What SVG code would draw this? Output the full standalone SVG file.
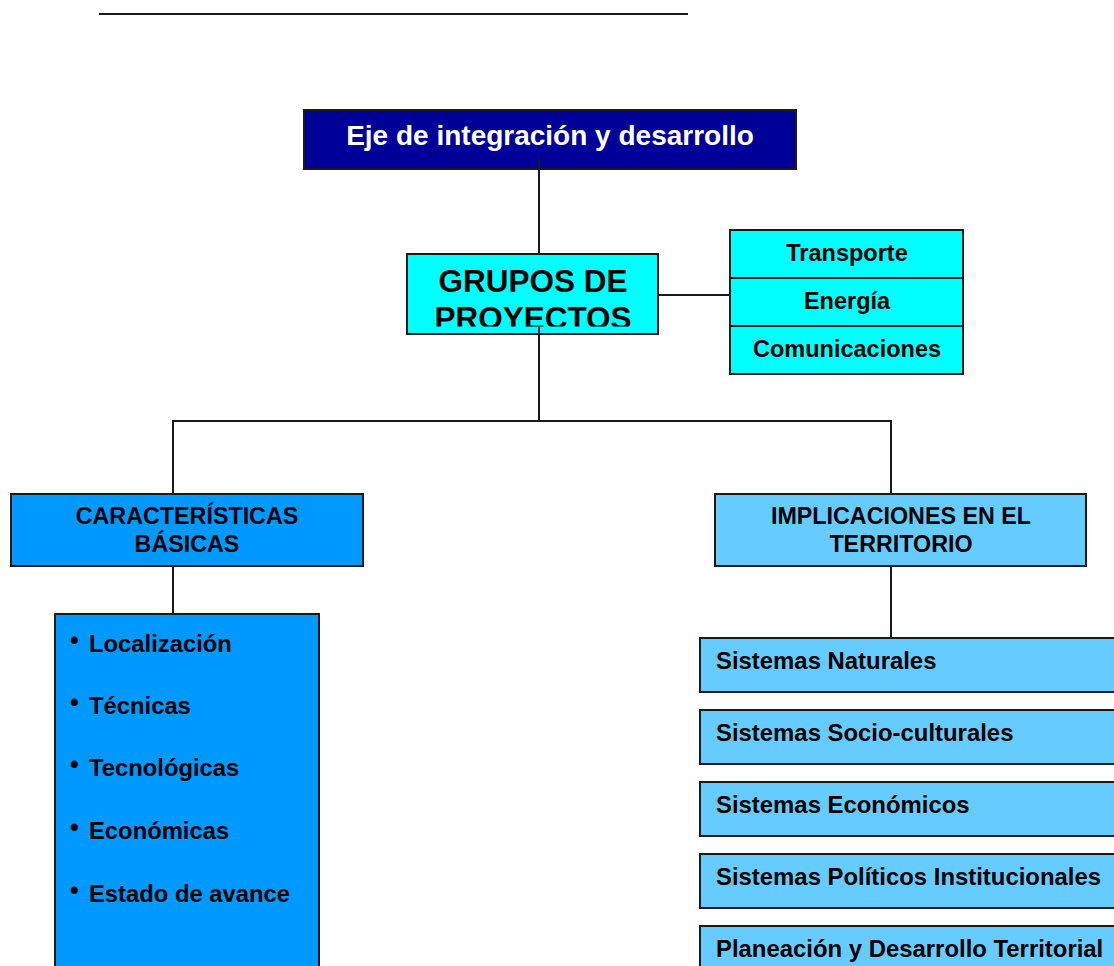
<svg xmlns="http://www.w3.org/2000/svg" width="1114" height="966" viewBox="0 0 1114 966">
<style>
.bx{stroke:#1a1a1a;stroke-width:2}
.t{font-family:"Liberation Sans",Arial,sans-serif;font-weight:bold;fill:#000}
.c{text-anchor:middle}
.ln{stroke:#1a1a1a;stroke-width:2;fill:none}
.bul{font-size:25px}
</style>
<defs>
<clipPath id="gclip"><rect x="408" y="255" width="249" height="71.5"/></clipPath>
</defs>
<rect width="1114" height="966" fill="#fff"/>
<line x1="99" y1="14" x2="688" y2="14" class="ln"/>
<g id="eje">
<rect x="304" y="110" width="492" height="59" fill="#000099" class="bx"/>
<text x="550" y="145" class="t c" font-size="28" style="fill:#fff">Eje de integración y desarrollo</text>
</g>
<g id="grupos">
<rect x="407" y="254" width="251" height="80" fill="#00FFFF" class="bx"/>
<g clip-path="url(#gclip)">
<text x="533" y="292" class="t c" font-size="31.5">GRUPOS DE</text>
<text x="533" y="329" class="t c" font-size="31.5">PROYECTOS</text>
</g>
</g>
<g id="sectores">
<rect x="730" y="230" width="233" height="48" fill="#00FFFF" class="bx"/>
<rect x="730" y="278" width="233" height="48" fill="#00FFFF" class="bx"/>
<rect x="730" y="326" width="233" height="48" fill="#00FFFF" class="bx"/>
<text x="847" y="261" class="t c" font-size="23.5">Transporte</text>
<text x="847" y="309" class="t c" font-size="23.5">Energía</text>
<text x="847" y="357" class="t c" font-size="23.5">Comunicaciones</text>
</g>
<g id="caracteristicas">
<rect x="11" y="494" width="352" height="72" fill="#0099FF" class="bx"/>
<text x="187" y="524" class="t c" font-size="23.3">CARACTERÍSTICAS</text>
<text x="187" y="552" class="t c" font-size="23.3">BÁSICAS</text>
</g>
<g id="implicaciones">
<rect x="715" y="494" width="371" height="72" fill="#66CCFF" class="bx"/>
<text x="901" y="524" class="t c" font-size="23.3">IMPLICACIONES EN EL</text>
<text x="901" y="552" class="t c" font-size="23.3">TERRITORIO</text>
</g>
<g id="lista">
<rect x="55" y="614" width="264" height="370" fill="#0099FF" class="bx"/>
<g class="t" font-size="23.8">
<text x="70" y="649" class="bul">•</text><text x="89" y="652">Localización</text>
<text x="70" y="711" class="bul">•</text><text x="89" y="714">Técnicas</text>
<text x="70" y="773" class="bul">•</text><text x="89" y="776">Tecnológicas</text>
<text x="70" y="836" class="bul">•</text><text x="89" y="839">Económicas</text>
<text x="70" y="899" class="bul">•</text><text x="89" y="902">Estado de avance</text>
</g>
</g>
<g id="sistemas">
<rect x="700" y="638" width="430" height="54" fill="#66CCFF" class="bx"/>
<rect x="700" y="710" width="430" height="54" fill="#66CCFF" class="bx"/>
<rect x="700" y="782" width="430" height="54" fill="#66CCFF" class="bx"/>
<rect x="700" y="854" width="430" height="54" fill="#66CCFF" class="bx"/>
<rect x="700" y="926" width="430" height="54" fill="#66CCFF" class="bx"/>
<g class="t" font-size="23.9">
<text x="716" y="669">Sistemas Naturales</text>
<text x="716" y="741">Sistemas Socio-culturales</text>
<text x="716" y="813">Sistemas Económicos</text>
<text x="716" y="885">Sistemas Políticos Institucionales</text>
<text x="716" y="957">Planeación y Desarrollo Territorial</text>
</g>
</g>
<g id="conectores" class="ln">
<line x1="539" y1="158" x2="539" y2="254"/>
<line x1="657" y1="295" x2="730" y2="295"/>
<line x1="539" y1="327" x2="539" y2="421"/>
<polyline points="173,494 173,421 891,421 891,494"/>
<line x1="173" y1="566" x2="173" y2="614"/>
<line x1="891" y1="566" x2="891" y2="638"/>
</g>
</svg>
